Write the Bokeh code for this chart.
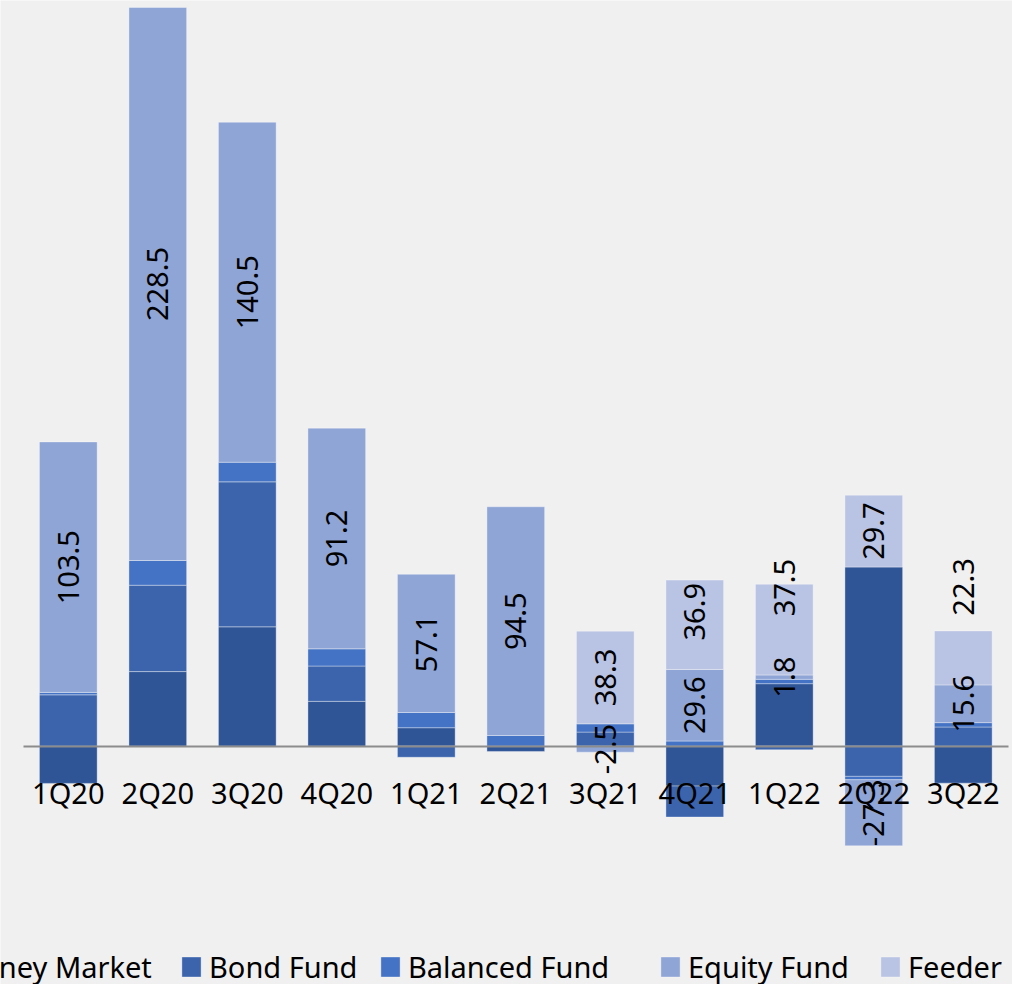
import numpy as np
from bokeh.plotting import figure
from bokeh.models import ColumnDataSource, FixedTicker, Legend, LegendItem, Range1d
from bokeh.core.properties import value
from bokeh.embed import file_html
from bokeh.resources import INLINE

# ---- data ----
quarters = ["1Q20", "2Q20", "3Q20", "4Q20", "1Q21", "2Q21", "3Q21", "4Q21", "1Q22", "2Q22", "3Q22"]
money_market = [-15.4, 30.8, 49.3, 18.5, 7.6, -2.2, 0.0, -16.5, 25.8, 74.0, -15.3]
bond_fund = [21.2, 35.7, 59.9, 14.6, -4.6, 0.0, 5.8, -12.8, -1.5, -12.5, 7.9]
balanced_fund = [1.0, 10.2, 8.1, 7.1, 6.3, 4.4, 3.4, 2.1, 1.8, -1.4, 1.8]
equity_fund = [103.5, 228.5, 140.5, 91.2, 57.1, 94.5, -2.5, 29.6, 1.8, -27.3, 15.6]
feeder = [0.0, 0.0, 0.0, 0.0, 0.0, 0.0, 38.3, 36.9, 37.5, 29.7, 22.3]

series_names = ["Money Market", "Bond Fund", "Balanced Fund", "Equity Fund", "Feeder"]
series_values = [money_market, bond_fund, balanced_fund, equity_fund, feeder]

# ---- styling ----
colors = ["#2F5597", "#3B64AD", "#4472C4", "#8FA5D6", "#B9C3E3"]
labelled_series = {"Equity Fund", "Feeder"}
label_nudge_px = {("Feeder", "4Q21"): -13, ("Feeder", "1Q22"): -42, ("Feeder", "3Q22"): -71}
legend_x_px = [-75, 179, 378, 658, 878]   # left edge of each legend entry
FONT = "Noto Sans"
FS = "29px"
BG = "#F0F0F0"

p = figure(width=1012, height=984, output_backend="svg", toolbar_location=None,
           x_range=Range1d(-0.7575, 10.55), y_range=Range1d(-98.5, 308.1),
           min_border=0, background_fill_color=BG, border_fill_color=BG,
           outline_line_color=None)
p.grid.visible = False
p.yaxis.visible = False

n = len(quarters)
xs = np.arange(n)
pos = np.zeros(n)
neg = np.zeros(n)
legend_items = []
lab_x, lab_y, lab_t, lab_off = [], [], [], []
for name, vals, color in zip(series_names, series_values, colors):
    v = np.array(vals, dtype=float)
    bottom = np.where(v >= 0, pos, neg)
    top = bottom + v
    pos = np.where(v >= 0, top, pos)
    neg = np.where(v < 0, top, neg)
    m = v != 0
    src = ColumnDataSource(dict(x=xs[m], top=top[m], bottom=bottom[m]))
    r = p.vbar(x="x", top="top", bottom="bottom", width=0.645, source=src,
               fill_color=color, line_color="white", line_alpha=0.35, line_width=1)
    legend_items.append(LegendItem(label=name, renderers=[r]))
    if name in labelled_series:
        for i in np.where(m)[0]:
            lab_x.append(float(xs[i]))
            lab_y.append(float((top[i] + bottom[i]) / 2))
            lab_t.append(f"{v[i]:.1f}")
            lab_off.append(label_nudge_px.get((name, quarters[i]), 0))

lsrc = ColumnDataSource(dict(x=lab_x, y=lab_y, t=lab_t, off=lab_off))
p.text(x="x", y="y", text="t", y_offset="off", source=lsrc, angle=np.pi / 2,
       text_align="center", text_baseline="middle", text_color="black",
       text_font=value(FONT), text_font_size=FS)

ax = p.xaxis[0]
ax.fixed_location = 0
ax.ticker = FixedTicker(ticks=[int(i) for i in xs])
ax.major_label_overrides = {int(i): q for i, q in zip(xs, quarters)}
ax.bounds = (-0.5, 10.5)
ax.axis_line_color = "#8C8C8C"
ax.axis_line_width = 2
ax.major_tick_line_color = None
ax.minor_tick_line_color = None
ax.major_label_text_font = FONT
ax.major_label_text_font_size = FS
ax.major_label_text_color = "black"
ax.major_label_standoff = 21

for item, lx in zip(legend_items, legend_x_px):
    lg = Legend(items=[item], orientation="horizontal", location=(lx, -2),
                glyph_width=24, glyph_height=25, label_standoff=6, spacing=0,
                padding=0, margin=0, border_line_color=None, background_fill_alpha=0,
                label_text_font=FONT, label_text_font_size=FS, label_text_color="black")
    p.add_layout(lg)

open("out.html", "w").write(file_html(p, INLINE))
